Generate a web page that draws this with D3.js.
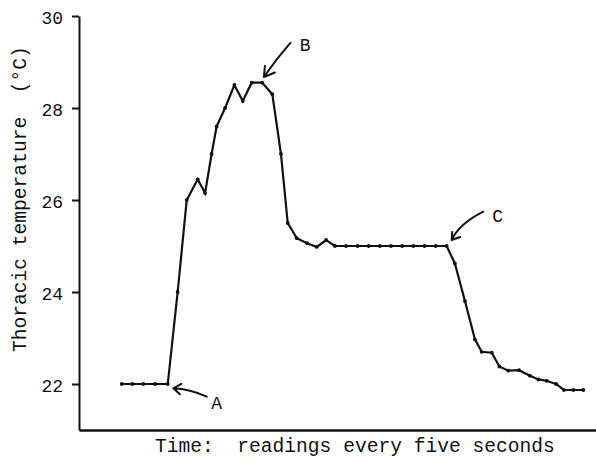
<!DOCTYPE html>
<html>
<head>
<meta charset="utf-8">
<script src="https://cdn.jsdelivr.net/npm/d3@7"></script>
<style>
  html, body { margin: 0; padding: 0; background: #fff; }
  svg { display: block; }
  text { font-family: "Liberation Mono", "Courier New", monospace; fill: #111; }
</style>
</head>
<body>
<svg id="chart" width="596" height="463"></svg>
<script>
// Thoracic temperature readings (°C), positions along the time axis in seconds
const timeSec = [
  20.3, 25.3, 30.5, 36.1, 42.1, 46.8, 51.1, 56.3, 59.8, 62.9,
  65.3, 69.3, 73.7, 77.7, 81.9, 86.9, 91.7, 95.8, 99.0, 103.3,
  108.2, 112.8, 117.2, 121.4, 126.7, 132.1, 137.4, 142.7, 148.0, 153.3,
  158.6, 163.9, 169.2, 174.4, 178.3, 183.1, 187.8, 191.0, 195.8, 199.4,
  203.6, 208.7, 213.9, 217.9, 221.8, 226.3, 230.0, 234.5, 239.2
];
const tempC = [
  22.0, 22.0, 22.0, 22.0, 22.0, 24.0, 26.0, 26.45, 26.15, 27.0,
  27.6, 28.0, 28.5, 28.15, 28.55, 28.55, 28.3, 27.0, 25.5, 25.17,
  25.06, 24.98, 25.13, 25.0, 25.0, 25.0, 25.0, 25.0, 25.0, 25.0,
  25.0, 25.0, 25.0, 25.0, 24.62, 23.8, 22.97, 22.7, 22.68, 22.38,
  22.29, 22.3, 22.18, 22.1, 22.07, 22.0, 21.87, 21.87, 21.87
];
const yTicks = [22, 24, 26, 28, 30];

// Labelled events: reading index each arrow points at
const eventLabels = ["A", "B", "C"];
const eventIndex = [4, 15, 33];

const svg = d3.select("#chart");

const x = d3.scaleLinear().domain([0, 245]).range([79, 595.5]);
const y = d3.scaleLinear().domain([21, 30]).range([430, 16]);

// Axes
const yAxis = svg.append("g")
  .attr("transform", `translate(${x(0)},0)`)
  .call(d3.axisLeft(y).tickValues(yTicks).tickSize(7).tickSizeOuter(0).tickPadding(9)
    .tickFormat(d3.format("d")));
yAxis.select(".domain").attr("stroke", "#111").attr("stroke-width", 2);
yAxis.selectAll(".tick line").attr("stroke", "#111").attr("stroke-width", 2);
yAxis.selectAll(".tick text")
  .style("font-family", '"Liberation Mono", "Courier New", monospace')
  .attr("font-size", 18).attr("fill", "#111").attr("dy", "0.42em");

const xAxis = svg.append("g")
  .attr("transform", `translate(0,${y(21)})`)
  .call(d3.axisBottom(x).tickValues([]).tickSizeOuter(0));
xAxis.select(".domain").attr("stroke", "#111").attr("stroke-width", 2.4);

// Axis titles
svg.append("text")
  .attr("transform", "translate(26,352) rotate(-90)")
  .attr("font-size", 19.6)
  .style("white-space", "pre")
  .text("Thoracic temperature  (°C)");

svg.append("text")
  .attr("x", 155).attr("y", 452)
  .attr("font-size", 19.6)
  .style("white-space", "pre")
  .text("Time:  readings every five seconds");

// Temperature trace
const pts = timeSec.map((t, i) => [t, tempC[i]]);
svg.append("path")
  .datum(pts)
  .attr("fill", "none")
  .attr("stroke", "#111")
  .attr("stroke-width", 2.2)
  .attr("stroke-linejoin", "miter")
  .attr("d", d3.line().x(d => x(d[0])).y(d => y(d[1])));

svg.append("g").selectAll("circle")
  .data(pts)
  .join("circle")
  .attr("cx", d => x(d[0]))
  .attr("cy", d => y(d[1]))
  .attr("r", 1.9)
  .attr("fill", "#111");

// Arrow geometry relative to the marked reading: tip offset, control, tail, head arms, label offset
const arrowShape = {
  A: { tip: [5.6, 4.3], ctrl: [22, 5],    tail: [39, 12.7],  head: [[8, -4.5], [6.5, 6]],  label: [49, 25] },
  B: { tip: [1.7, -5.7], ctrl: [13.5, -23], tail: [28.4, -40], head: [[1, -11], [11, -4.5]], label: [43, -32] },
  C: { tip: [5, -6],    ctrl: [12.4, -22], tail: [36.6, -34.3], head: [[0.5, -8], [8.5, -3]], label: [51, -24] }
};

eventLabels.forEach((lab, k) => {
  const i = eventIndex[k];
  const px = x(timeSec[i]), py = y(tempC[i]);
  const s = arrowShape[lab];
  const tx = px + s.tip[0], ty = py + s.tip[1];
  const p = d3.path();
  p.moveTo(px + s.tail[0], py + s.tail[1]);
  p.quadraticCurveTo(px + s.ctrl[0], py + s.ctrl[1], tx, ty);
  s.head.forEach(h => { p.moveTo(tx + h[0], ty + h[1]); p.lineTo(tx, ty); });
  svg.append("path")
    .attr("d", p.toString())
    .attr("fill", "none")
    .attr("stroke", "#111")
    .attr("stroke-width", 2)
    .attr("stroke-linecap", "round")
    .attr("stroke-linejoin", "round");
  svg.append("text")
    .attr("x", px + s.label[0]).attr("y", py + s.label[1])
    .attr("text-anchor", "middle")
    .attr("font-size", 18)
    .text(lab);
});
</script>
</body>
</html>
